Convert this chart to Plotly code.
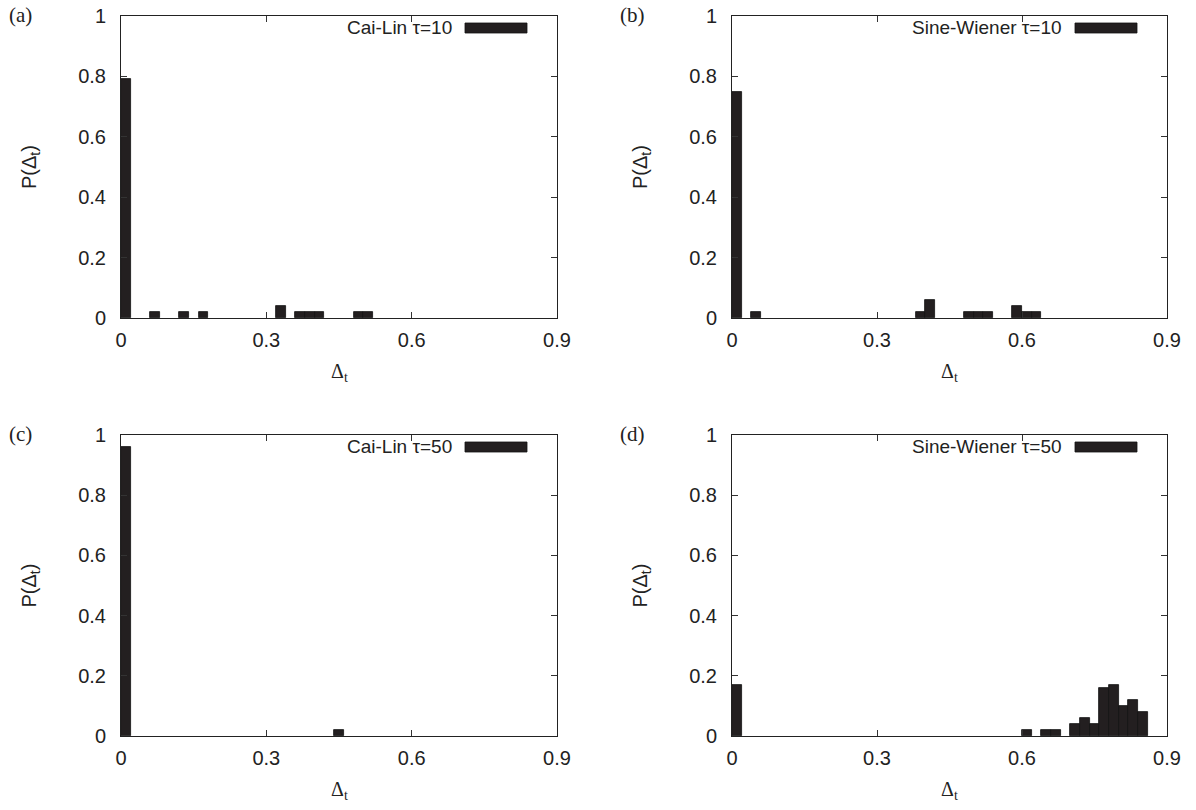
import plotly.graph_objects as go

# ---- data (bin centers, bin width 0.02) ----
bin_width = 0.02
a_x = [0.01, 0.07, 0.13, 0.17, 0.33, 0.37, 0.39, 0.41, 0.49, 0.51]
a_y = [0.79, 0.02, 0.02, 0.02, 0.04, 0.02, 0.02, 0.02, 0.02, 0.02]

b_x = [0.01, 0.05, 0.39, 0.41, 0.49, 0.51, 0.53, 0.59, 0.61, 0.63]
b_y = [0.75, 0.02, 0.02, 0.06, 0.02, 0.02, 0.02, 0.04, 0.02, 0.02]

c_x = [0.01, 0.45]
c_y = [0.96, 0.02]

d_x = [0.01, 0.61, 0.65, 0.67, 0.71, 0.73, 0.75, 0.77, 0.79, 0.81, 0.83, 0.85]
d_y = [0.17, 0.02, 0.02, 0.02, 0.04, 0.06, 0.04, 0.16, 0.17, 0.10, 0.12, 0.08]

legend_names = ["Cai-Lin τ=10", "Sine-Wiener τ=10", "Cai-Lin τ=50", "Sine-Wiener τ=50"]
panel_labels = ["(a)", "(b)", "(c)", "(d)"]
x_ticks = [0, 0.3, 0.6, 0.9]
x_ticktext = ["0", "0.3", "0.6", "0.9"]
y_ticks = [0, 0.2, 0.4, 0.6, 0.8, 1.0]
y_ticktext = ["0", "0.2", "0.4", "0.6", "0.8", "1"]

W, H = 1196, 810
# panel plot areas in screen pixels: (left, right, top, bottom)
areas = [(121, 557, 16, 318), (732, 1167, 16, 318),
         (121, 557, 435, 736), (732, 1167, 435, 736)]
series = [(a_x, a_y), (b_x, b_y), (c_x, c_y), (d_x, d_y)]


def px(x):
    return x / W


def py(y):
    return 1 - y / H


FONT = "Liberation Sans, Arial, sans-serif"
SERIF = "Liberation Serif, DejaVu Serif, serif"
BAR = "#231f20"

fig = go.Figure()
layout = dict(width=W, height=H,
              margin=dict(l=0, r=0, t=0, b=0, pad=0, autoexpand=False),
              paper_bgcolor="white", plot_bgcolor="white", showlegend=False,
              bargap=0)
annotations = []
shapes = []

for i, ((xs, ys), (l, r, t, b)) in enumerate(zip(series, areas)):
    n = "" if i == 0 else str(i + 1)
    xa = "x" + n
    ya = "y" + n
    fig.add_trace(go.Bar(x=xs, y=ys, width=[bin_width] * len(xs),
                         marker=dict(color=BAR, line=dict(color="#111", width=0.8)),
                         xaxis=xa, yaxis=ya, hoverinfo="skip"))
    common = dict(showgrid=False, zeroline=False, showline=True, linecolor="#222",
                  linewidth=1, mirror="allticks", ticks="inside", ticklen=6,
                  tickcolor="#333", automargin=False,
                  tickfont=dict(family=FONT, size=20, color="#222"))
    layout["xaxis" + n] = dict(domain=[px(l), px(r)], anchor=ya, range=[0, 0.9],
                               tickvals=x_ticks, ticktext=x_ticktext,
                               ticklabelstandoff=4, **common)
    layout["yaxis" + n] = dict(domain=[py(b), py(t)], anchor=xa, range=[0, 1],
                               tickvals=y_ticks, ticktext=y_ticktext,
                               ticklabelstandoff=10, **common)
    # axis titles
    annotations.append(dict(text="Δ<sub>t</sub>", xref="paper", yref="paper",
                            x=px((l + r) / 2), y=py(b + 54), xanchor="center",
                            yanchor="middle", showarrow=False,
                            font=dict(family=SERIF, size=20, color="#222")))
    annotations.append(dict(text="P(Δ<sub>t</sub>)", xref="paper", yref="paper",
                            x=px(l - 91), y=py((t + b) / 2), xanchor="center",
                            yanchor="middle", textangle=-90, showarrow=False,
                            font=dict(family=FONT, size=20, color="#222")))
    # panel labels
    annotations.append(dict(text=panel_labels[i], xref="paper", yref="paper",
                            x=px(l - 114), y=py(t - 1), xanchor="left",
                            yanchor="middle", showarrow=False,
                            font=dict(family=SERIF, size=21, color="#222")))
    # legend entry
    annotations.append(dict(text=legend_names[i], xref="paper", yref="paper",
                            x=px(r - 103), y=py(t + 12), xanchor="right",
                            yanchor="middle", showarrow=False,
                            font=dict(family=FONT, size=19, color="#222")))
    shapes.append(dict(type="rect", xref="paper", yref="paper",
                       x0=px(r - 92), x1=px(r - 30),
                       y0=py(t + 17), y1=py(t + 7),
                       fillcolor=BAR, line=dict(color="#111", width=0.8)))

layout["annotations"] = annotations
layout["shapes"] = shapes
fig.update_layout(**layout)
fig.write_html("out.html", config={"displayModeBar": False},
               post_script="document.body.style.margin='0';document.body.style.padding='0';")
